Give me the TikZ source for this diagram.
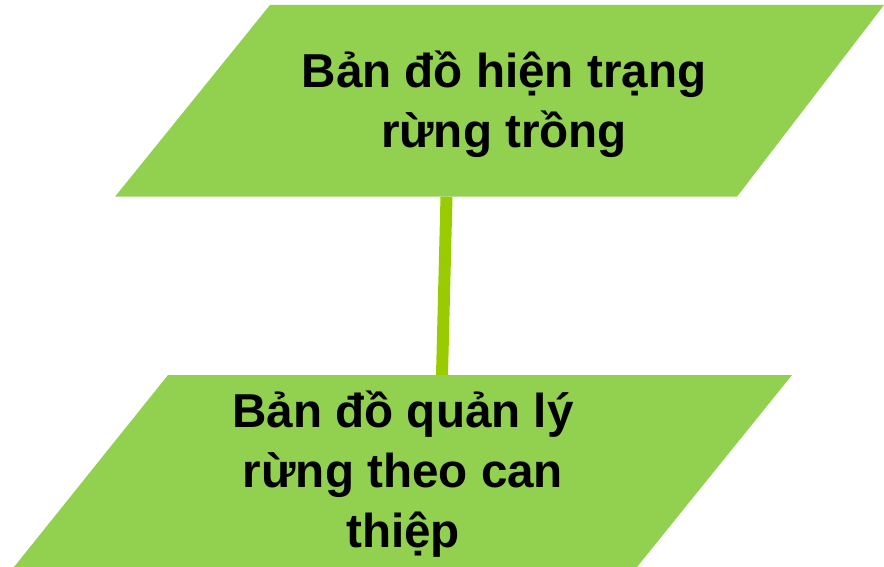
\documentclass[tikz,border=0pt]{standalone}
\usepackage{fontspec}
\setmainfont{Liberation Sans}
\definecolor{mapgreen}{HTML}{92D050}
\definecolor{linkgreen}{HTML}{99CC00}
\tikzset{maptext/.style={align=center,font=\bfseries\fontsize{23.8}{30}\selectfont,inner sep=0pt,anchor=base},
	mapbox/.style={fill=mapgreen},
	link/.style={draw=linkgreen,line width=6pt}}

\begin{document}
\begin{tikzpicture}[x=0.5pt,y=-0.5pt]
	\useasboundingbox (0,0) rectangle (884,567);
	\coordinate (current out) at (446.5,196.7);
	\coordinate (managed in) at (442,375);
	\draw[link](current out)--(managed in);
	\fill[mapbox](270,5)--(884,5)--(737,196.7)--(115,196.7)--cycle;
	\fill[mapbox](168,375)--(792,375)--(637,567)--(14,567)--cycle;
	% base = last line
	\node[maptext](current) at (504,148){Bản đồ hiện trạng\\rừng trồng};
	\node[maptext](managed) at (403,547){Bản đồ quản lý\\rừng theo can\\thiệp};
\end{tikzpicture}
\end{document}
